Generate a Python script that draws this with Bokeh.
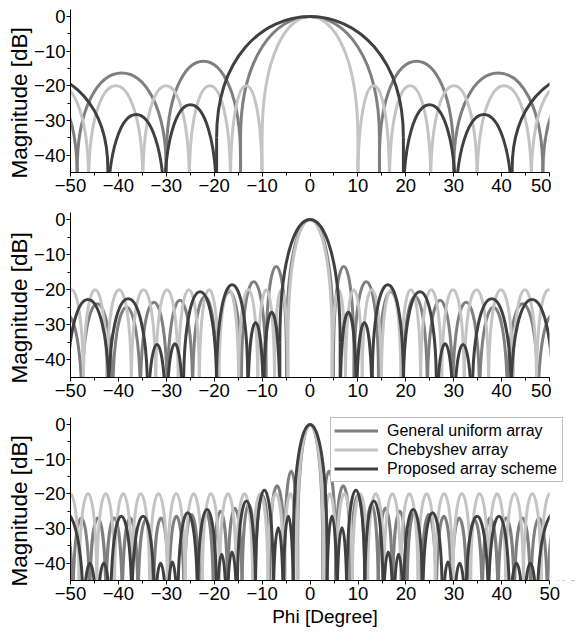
import numpy as np
from bokeh.plotting import figure
from bokeh.layouts import column
from bokeh.models import FixedTicker, Range1d, Legend, LegendItem, BoxAnnotation, Title
from bokeh.embed import file_html
from bokeh.resources import INLINE

# ---------------- data (null positions [deg] and lobe peak levels [dB]) ----------------
# panel 1
P1_UNI_NULLS = [-66.0, -48.6, -30.0, -14.5, 14.5, 30.0, 48.6, 66.0]
P1_UNI_PEAKS = [-18.0, -16.3, -12.9, 0.0, -12.9, -16.3, -18.0]
P1_CHEB_NULLS = [-58.0, -46.2, -34.9, -25.2, -16.6, -10.0, 10.0, 16.6, 25.2, 34.9, 46.2, 58.0]
P1_CHEB_PEAKS = [-20.0, -20.0, -20.0, -20.0, -20.0, 0.0, -20.0, -20.0, -20.0, -20.0, -20.0]
P1_PROP_NULLS = [-74.0, -42.2, -30.4, -19.5, 19.5, 30.4, 42.2, 74.0]
P1_PROP_PEAKS = [-16.0, -28.3, -25.5, 0.0, -25.5, -28.3, -16.0]

# panel 2
P2_UNI_NULLS = [-54.0, -47.6, -41.2, -35.4, -29.8, -24.5, -19.4, -14.3, -9.2, -4.9,
                4.9, 9.2, 14.3, 19.4, 24.5, 29.8, 35.4, 41.2, 47.6, 54.0]
P2_UNI_PEAKS = [-27.0, -24.0, -25.0, -23.6, -23.0, -22.0, -20.5, -17.7, -13.4, 0.0,
                -13.4, -17.7, -20.5, -22.0, -23.0, -23.6, -25.0, -24.0, -27.0]
P2_CHEB_NULLS = [-52.3, -47.3, -42.4, -37.3, -32.2, -27.5, -23.1, -19.0, -14.9, -10.9, -7.4, -4.6,
                 4.6, 7.4, 10.9, 14.9, 19.0, 23.1, 27.5, 32.2, 37.3, 42.4, 47.3, 52.3]
P2_CHEB_PEAKS = [-20.0, -20.0, -20.0, -20.0, -20.0, -20.0, -20.0, -20.0, -20.0, -20.0, -20.0, 0.0,
                 -20.0, -20.0, -20.0, -20.0, -20.0, -20.0, -20.0, -20.0, -20.0, -20.0, -20.0]
P2_PROP_NULLS = [-50.7, -42.0, -33.9, -30.0, -26.4, -19.5, -13.0, -9.7, -6.3,
                 6.3, 9.7, 13.0, 19.5, 26.4, 30.0, 33.9, 42.0, 50.7]
P2_PROP_PEAKS = [-22.8, -22.6, -35.6, -35.4, -20.6, -18.6, -29.3, -26.4, 0.0,
                 -26.4, -29.3, -18.6, -20.6, -35.4, -35.6, -22.6, -22.8]

# panel 3
P3_UNI_NULLS = [-53.0, -49.5, -46.0, -42.6, -39.2, -35.9, -32.7, -29.5, -26.3, -23.2, -20.2, -17.2,
                -14.2, -11.4, -8.5, -5.3, -2.6,
                2.6, 5.3, 8.5, 11.4, 14.2, 17.2, 20.2, 23.2, 26.3, 29.5, 32.7, 35.9, 39.2, 42.6,
                46.0, 49.5, 53.0]
P3_UNI_PEAKS = [-28.0, -27.0, -27.0, -27.0, -27.0, -27.5, -27.0, -26.5, -26.0, -25.5, -25.0, -24.2,
                -23.0, -20.5, -17.7, -13.4, 0.0,
                -13.4, -17.7, -20.5, -23.0, -24.2, -25.0, -25.5, -26.0, -26.5, -27.0, -27.5,
                -27.0, -27.0, -27.0, -27.0, -28.0]
P3_CHEB_NULLS = [-51.8, -48.2, -44.5, -40.8, -37.2, -33.5, -29.8, -26.1, -22.5, -18.9, -15.4, -12.0,
                 -8.8, -5.5, -2.7,
                 2.7, 5.5, 8.8, 12.0, 15.4, 18.9, 22.5, 26.1, 29.8, 33.5, 37.2, 40.8, 44.5, 48.2, 51.8]
P3_CHEB_PEAKS = [-20.0, -20.0, -20.0, -20.0, -20.0, -20.0, -20.0, -20.0, -20.0, -20.0, -20.0, -20.0,
                 -20.0, -20.0, 0.0,
                 -20.0, -20.0, -20.0, -20.0, -20.0, -20.0, -20.0, -20.0, -20.0, -20.0, -20.0, -20.0,
                 -20.0, -20.0]
P3_PROP_NULLS = [-55.0, -47.4, -44.5, -41.6, -37.2, -32.5, -29.9, -27.6, -23.5, -19.5, -17.4, -15.2,
                 -11.4, -7.7, -5.6, -3.5,
                 3.5, 5.6, 7.7, 11.4, 15.2, 17.4, 19.5, 23.5, 27.6, 29.9, 32.5, 37.2, 41.6, 44.5,
                 47.4, 55.0]
P3_PROP_PEAKS = [-25.3, -40.0, -40.0, -26.5, -26.5, -40.0, -39.7, -25.5, -24.5, -37.4, -36.8, -22.1,
                 -19.0, -29.8, -26.5, 0.0,
                 -26.5, -29.8, -19.0, -22.1, -36.8, -37.4, -24.5, -25.5, -39.7, -40.0, -26.5, -26.5,
                 -40.0, -40.0, -25.3]

SERIES_NAMES = ["General uniform array", "Chebyshev array", "Proposed array scheme"]
X_MIN, X_MAX = -50, 50
Y_MIN, Y_MAX = -45, 2
X_TICKS = [-50, -40, -30, -20, -10, 0, 10, 20, 30, 40, 50]
X_MINOR = [-45, -35, -25, -15, -5, 5, 15, 25, 35, 45]
Y_TICKS = [-40, -30, -20, -10, 0]
Y_MINOR = [-35, -25, -15, -5]

# ---------------- style ----------------
C_UNI = "#7f7f7f"
C_CHEB = "#c4c4c4"
C_PROP = "#404040"
LW = 3
FONT = "Liberation Sans"
PX_PER_DEG = 4.79


def draw_lobes(p, nulls, peaks, color):
    nulls = np.asarray(nulls, float)
    peaks = np.asarray(peaks, float)
    depth = np.where(peaks > -6, 35.0, 28.0)      # arch shape parameter
    base = peaks - depth
    ctrl = peaks + depth / 3.0
    x0 = nulls[:-1]
    x1 = nulls[1:]
    p.bezier(x0=x0, y0=base, x1=x1, y1=base, cx0=x0, cy0=ctrl, cx1=x1, cy1=ctrl,
             line_color=color, line_width=LW)
    sx = np.concatenate([x0, x1])
    sy = np.concatenate([base, base])
    keep = np.abs(sx) <= X_MAX          # null drops outside the axis are never visible
    sx, sy = sx[keep], sy[keep]
    return p.segment(x0=sx, y0=sy, x1=sx, y1=np.full_like(sx, float(Y_MIN)),
                     line_color=color, line_width=LW)


def make_panel(data, top, bottom, fh, xlabel=None, x_extra=0.0):
    fw = int(round((X_MAX - X_MIN + x_extra) * PX_PER_DEG))
    p = figure(frame_width=fw, frame_height=fh,
               x_range=Range1d(X_MIN, X_MAX + x_extra), y_range=Range1d(Y_MIN, Y_MAX),
               min_border_left=70, min_border_right=2,
               min_border_top=top, min_border_bottom=bottom,
               output_backend="svg", toolbar_location=None)
    p.grid.visible = False
    p.outline_line_color = None
    p.background_fill_color = "white"
    p.border_fill_color = "white"
    p.xaxis.ticker = FixedTicker(ticks=X_TICKS, minor_ticks=X_MINOR)
    p.yaxis.ticker = FixedTicker(ticks=Y_TICKS, minor_ticks=Y_MINOR)
    p.xaxis.bounds = (X_MIN, X_MAX)
    for ax in (p.xaxis[0], p.yaxis[0]):
        ax.axis_line_color = "black"
        ax.axis_line_width = 1
        ax.major_tick_line_color = "black"
        ax.minor_tick_line_color = "black"
        ax.major_tick_in = 0
        ax.major_tick_out = 4
        ax.minor_tick_in = 0
        ax.minor_tick_out = 3
        ax.major_label_text_font = FONT
        ax.major_label_text_font_size = "18.5px"
        ax.major_label_text_color = "black"
        ax.axis_label_text_font = FONT
        ax.axis_label_text_font_style = "normal"
        ax.axis_label_text_color = "black"
    p.xaxis.major_label_standoff = 2
    p.yaxis.major_label_standoff = 1
    # y-axis title: starts a little below the frame bottom, as in the original
    p.add_layout(Title(text="Magnitude [dB]", align="left", offset=-6,
                       text_font=FONT, text_font_size="22.5px", text_font_style="normal",
                       text_color="black", standoff=0), "left")
    if xlabel:
        p.xaxis.axis_label = xlabel
        p.xaxis.axis_label_text_font_size = "19px"
        p.xaxis.axis_label_standoff = 3
    seg = []
    for (nulls, peaks), col in zip(data, [C_UNI, C_CHEB, C_PROP]):
        seg.append(draw_lobes(p, nulls, peaks, col))
    return p, seg


p1, _ = make_panel([(P1_UNI_NULLS, P1_UNI_PEAKS), (P1_CHEB_NULLS, P1_CHEB_PEAKS),
                    (P1_PROP_NULLS, P1_PROP_PEAKS)], 9, 35, 163)
p2, _ = make_panel([(P2_UNI_NULLS, P2_UNI_PEAKS), (P2_CHEB_NULLS, P2_CHEB_PEAKS),
                    (P2_PROP_NULLS, P2_PROP_PEAKS)], 5, 35, 165)
# panel 3 frame reaches a little past +50 so the legend box can overhang the axis end
p3, seg3 = make_panel([(P3_UNI_NULLS, P3_UNI_PEAKS), (P3_CHEB_NULLS, P3_CHEB_PEAKS),
                       (P3_PROP_NULLS, P3_PROP_PEAKS)], 5, 50, 163,
                      xlabel="Phi [Degree]", x_extra=6.2)
p3.add_layout(BoxAnnotation(left=X_MAX, fill_color="white", fill_alpha=1.0,
                            line_alpha=0.0), "center")

items = [LegendItem(label=name, renderers=[r]) for name, r in zip(SERIES_NAMES, seg3)]
leg = Legend(items=items, location=(260, 98), orientation="vertical",
             padding=3, spacing=0, margin=0,
             glyph_width=44, glyph_height=19, label_height=19, label_width=172,
             label_standoff=9,
             label_text_font=FONT, label_text_font_size="16px", label_text_color="black",
             border_line_color="#808080", border_line_width=1,
             background_fill_color="white", background_fill_alpha=1.0)
p3.add_layout(leg, "center")

layout = column(p1, p2, p3, spacing=0)
open("out.html", "w").write(file_html(layout, INLINE))
